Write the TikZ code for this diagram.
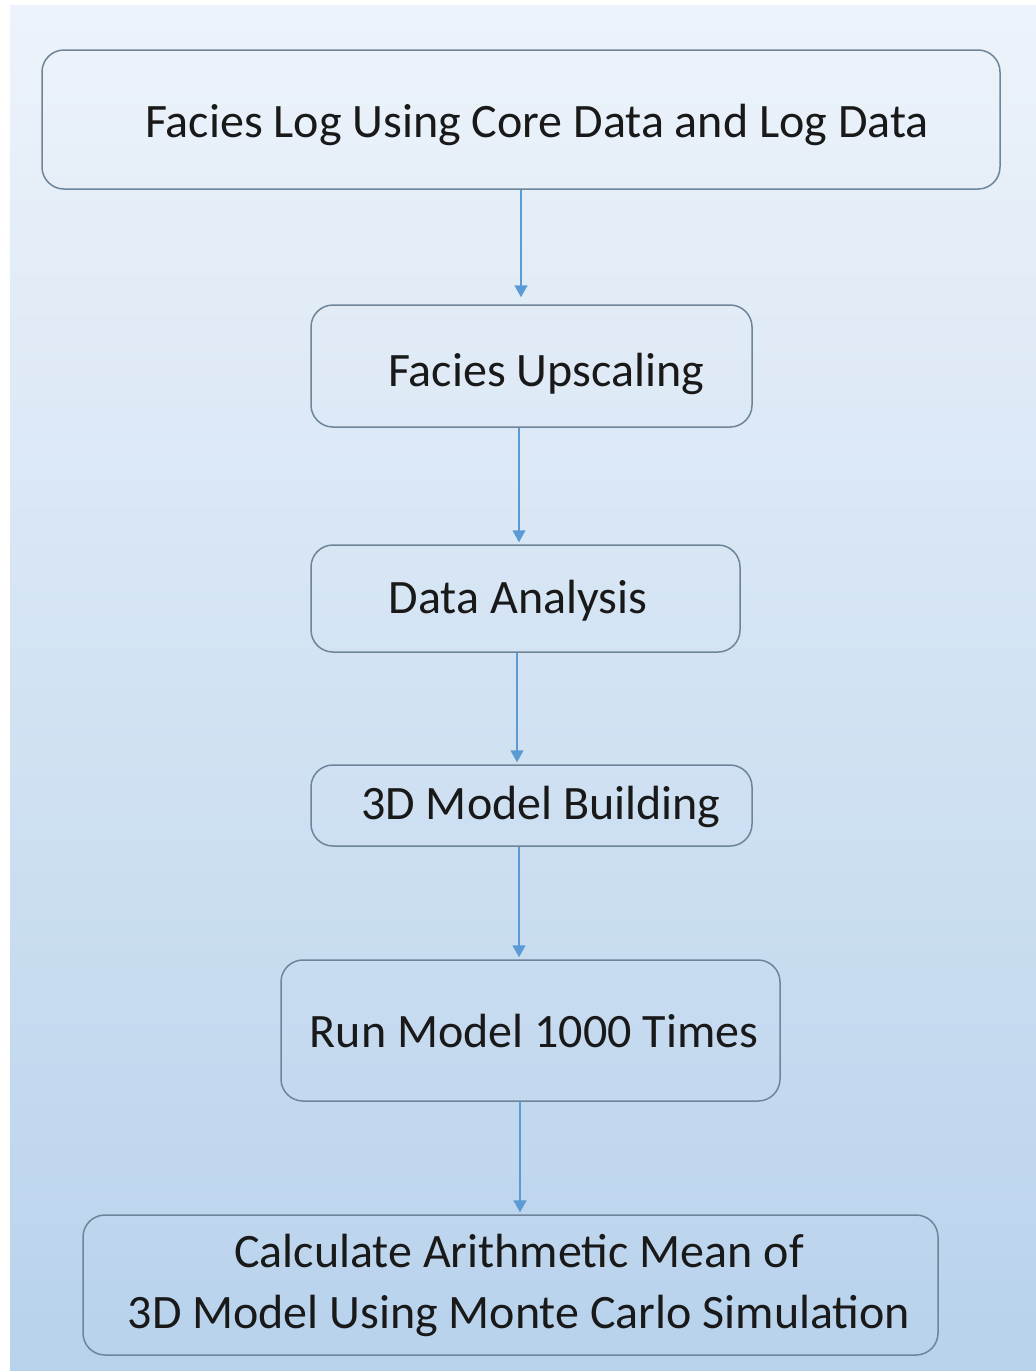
\documentclass[tikz,border=0pt]{standalone}
\usepackage{fontspec}
\setmainfont{Carlito}
\usetikzlibrary{arrows.meta}
\definecolor{boxline}{HTML}{6E8499}
\definecolor{flowblue}{HTML}{5B9BD5}
\definecolor{bgtop}{HTML}{EDF3FA}
\definecolor{bgbot}{HTML}{B8D2EC}
\tikzset{
  stepbox/.style={draw=boxline,line width=1.5pt,rounded corners=22pt,inner sep=0pt},
  steptext/.style={font=\fontsize{48}{61}\selectfont,text=black!90,align=center},
  flow/.style={draw=flowblue,line width=1.5pt,-{Triangle[width=13pt,length=12pt]}}
}
\begin{document}
\begin{tikzpicture}[x=1pt,y=-1pt]
			\useasboundingbox (0,0) rectangle (1036,1371);
			\fill[white] (0,0) rectangle (1036,1371);
			\shade[top color=bgtop,bottom color=bgbot,middle color=bgtop!50!bgbot] (10,5) rectangle (1036,1371);
			% boxes
			\node[stepbox,minimum width=958pt,minimum height=139pt] (log) at (521,119.5) {};
			\node[stepbox,minimum width=441pt,minimum height=122pt] (upscale) at (531.5,366) {};
			\node[stepbox,minimum width=429pt,minimum height=107pt] (analysis) at (525.5,598.5) {};
			\node[stepbox,minimum width=441pt,minimum height=81pt] (build) at (531.5,805.5) {};
			\node[stepbox,minimum width=499pt,minimum height=141pt] (run) at (530.5,1030.5) {};
			\node[stepbox,minimum width=855pt,minimum height=140pt] (mean) at (510.5,1285) {};
			% texts
			\node[steptext] (logtxt) at (537,125) {Facies Log Using Core Data and Log Data};
			\node[steptext] (upscaletxt) at (546,374) {Facies Upscaling};
			\node[steptext] (analysistxt) at (518,601) {Data Analysis};
			\node[steptext] (buildtxt) at (541,807) {3D Model Building};
			\node[steptext] (runtxt) at (534,1031) {Run Model 1000 Times};
			\node[steptext] (meantxt) at (519,1285) {Calculate Arithmetic Mean of\\ 3D Model Using Monte Carlo Simulation};
			% arrows
			\draw[flow,shorten >=7pt] (log.south) -- (log.south |- upscale.north);
			\draw[flow,shorten >=2pt] ([xshift=-12.5pt]upscale.south) -- ([xshift=-12.5pt]upscale.south |- analysis.north);
			\draw[flow,shorten >=2pt] ([xshift=-8.5pt]analysis.south) -- ([xshift=-8.5pt]analysis.south |- build.north);
			\draw[flow,shorten >=2pt] ([xshift=-12.5pt]build.south) -- ([xshift=-12.5pt]build.south |- run.north);
			\draw[flow,shorten >=2pt] ([xshift=-10.5pt]run.south) -- ([xshift=-10.5pt]run.south |- mean.north);
\end{tikzpicture}
\end{document}
